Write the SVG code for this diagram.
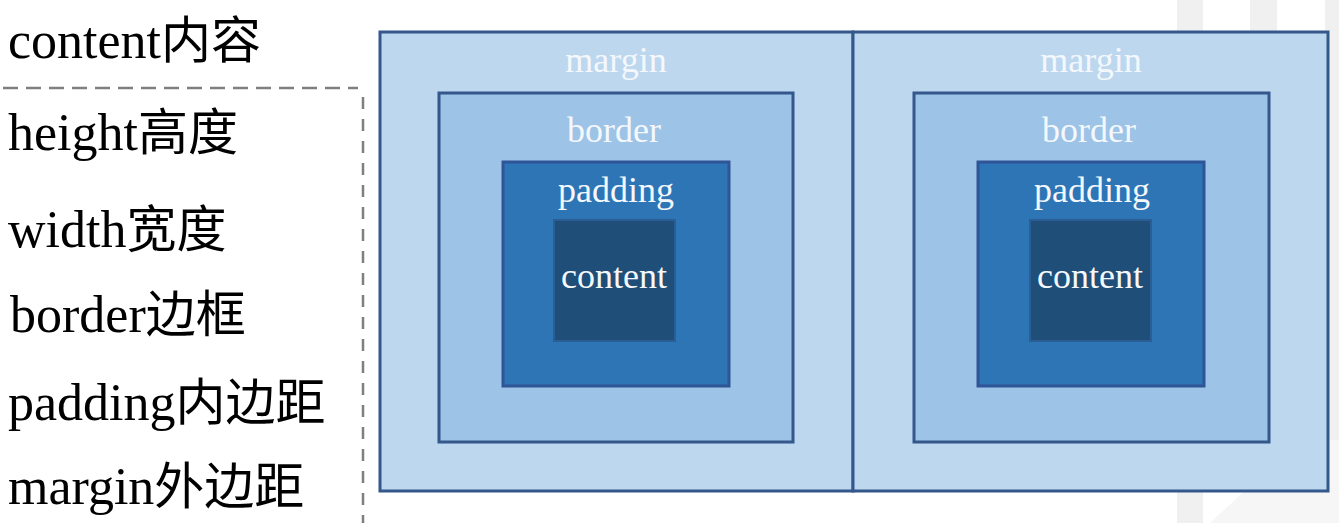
<svg xmlns="http://www.w3.org/2000/svg" width="1339" height="523" viewBox="0 0 1339 523">
<style>
.lbl{font-size:52px;fill:#000}
.lat{font-family:'Liberation Serif','Times New Roman','DejaVu Serif',serif}
.cjk{font-family:'Noto Sans CJK SC','Noto Sans CJK JP',sans-serif;font-size:50px}
.bt{font-family:'Liberation Serif','Times New Roman','DejaVu Serif',serif;font-size:36px;fill:#f4f8fc;text-anchor:middle}
.m{fill:#bdd7ee;stroke:#34578c;stroke-width:3}
.b{fill:#9dc3e6;stroke:#34578c;stroke-width:3}
.p{fill:#2e75b6;stroke:#2f5597;stroke-width:3}
.c{fill:#1f4e79;stroke:#2a5e94;stroke-width:2}
.dash{fill:none;stroke:#7f7f7f;stroke-width:2.5}
</style>
<rect width="1339" height="523" fill="#fff"/>
<g id="bg">
<rect x="1177" y="0" width="26" height="523" fill="#f0f0f0"/>
<rect x="1250" y="0" width="27" height="523" fill="#f0f0f0"/>
<rect x="1325" y="0" width="14" height="523" fill="#f0f0f0"/>
<polygon points="1210,523 1300,440 1339,440 1339,523" fill="#f6f6f6"/>
</g>
<g id="legend">
<text class="lbl" x="8" y="58"><tspan class="lat">content</tspan><tspan class="cjk">内容</tspan></text>
<text class="lbl" x="8" y="150"><tspan class="lat">height</tspan><tspan class="cjk">高度</tspan></text>
<text class="lbl" x="8" y="247"><tspan class="lat">width</tspan><tspan class="cjk">宽度</tspan></text>
<text class="lbl" x="10" y="332"><tspan class="lat">border</tspan><tspan class="cjk">边框</tspan></text>
<text class="lbl" x="8" y="420"><tspan class="lat">padding</tspan><tspan class="cjk">内边距</tspan></text>
<text class="lbl" x="8" y="504"><tspan class="lat">margin</tspan><tspan class="cjk">外边距</tspan></text>
</g>
<g id="connectors">
<line class="dash" x1="3" y1="88" x2="358" y2="88" stroke-dasharray="15,8"/>
<line class="dash" x1="363" y1="97" x2="363" y2="523" stroke-dasharray="12,10"/>
</g>
<g id="box1">
<rect class="m" x="380" y="32" width="473" height="459"/>
<rect class="b" x="439" y="93" width="354" height="349"/>
<rect class="p" x="503" y="162" width="226" height="224"/>
<rect class="c" x="554" y="220" width="121" height="121"/>
<text class="bt" x="616" y="72">margin</text>
<text class="bt" x="614" y="142">border</text>
<text class="bt" x="616" y="202">padding</text>
<text class="bt" x="614" y="288">content</text>
</g>
<g id="box2">
<rect class="m" x="853" y="32" width="475" height="459"/>
<rect class="b" x="914" y="93" width="355" height="349"/>
<rect class="p" x="978" y="162" width="226" height="224"/>
<rect class="c" x="1030" y="220" width="121" height="121"/>
<text class="bt" x="1091" y="72">margin</text>
<text class="bt" x="1089" y="142">border</text>
<text class="bt" x="1092" y="202">padding</text>
<text class="bt" x="1090" y="288">content</text>
</g>
</svg>
